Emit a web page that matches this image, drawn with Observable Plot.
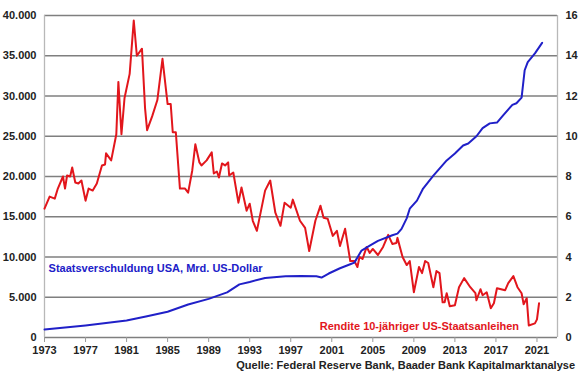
<!DOCTYPE html>
<html>
<head>
<meta charset="utf-8">
<script src="https://cdn.jsdelivr.net/npm/d3@7"></script>
<script src="https://cdn.jsdelivr.net/npm/@observablehq/plot@0.6"></script>
<style>
  html, body { margin: 0; padding: 0; background: #fff; }
  #wrap { width: 580px; height: 375px; position: relative; font-family: "Liberation Sans", Arial, sans-serif; }
  #caption { font: bold 11px "Liberation Sans", Arial, sans-serif; color: #222; text-align: right; padding-right: 5px; line-height: 13px; margin-top: 1px; }
</style>
</head>
<body>
<div id="wrap">
  <div id="chart"></div>
  <div id="caption">Quelle: Federal Reserve Bank, Baader Bank Kapitalmarktanalyse</div>
</div>
<script>
// Rendite 10-jähriger US-Staatsanleihen (%)
const yieldYears = [1973.0,1973.5,1974.0,1974.3,1974.8,1975.0,1975.2,1975.5,1975.7,1976.0,1976.3,1976.6,1977.0,1977.3,1977.7,1978.1,1978.6,1978.9,1979.0,1979.5,1980.0,1980.2,1980.5,1980.8,1981.3,1981.7,1982.0,1982.5,1982.8,1983.0,1983.5,1984.0,1984.5,1985.0,1985.3,1985.5,1985.8,1986.2,1986.7,1987.0,1987.4,1987.7,1988.1,1988.3,1988.8,1989.3,1989.5,1989.8,1990.0,1990.3,1990.6,1990.9,1991.0,1991.4,1991.9,1992.2,1992.7,1993.0,1993.3,1993.7,1994.5,1995.0,1995.5,1996.0,1996.4,1997.0,1997.2,1997.9,1998.4,1998.8,1999.4,1999.9,2000.2,2000.6,2001.1,2001.5,2001.8,2002.3,2002.8,2003.2,2003.5,2003.7,2004.0,2004.4,2004.7,2005.0,2005.5,2006.0,2006.5,2006.9,2007.3,2007.4,2007.9,2008.3,2008.6,2009.0,2009.5,2009.8,2010.1,2010.4,2010.9,2011.2,2011.5,2011.8,2012.0,2012.2,2012.5,2013.0,2013.4,2013.9,2014.5,2015.0,2015.1,2015.5,2015.7,2016.1,2016.5,2016.8,2017.1,2017.9,2018.2,2018.7,2019.1,2019.5,2019.7,2020.0,2020.2,2020.8,2021.0,2021.2];
const yieldValues = [6.4,7.0,6.9,7.4,8.0,7.4,8.05,8.0,8.45,7.7,7.65,7.8,6.8,7.4,7.3,7.65,8.55,8.6,9.15,8.8,10.1,12.7,10.1,11.9,13.1,15.75,14.0,14.35,11.4,10.3,11.0,11.8,13.85,11.6,11.6,10.2,10.2,7.4,7.4,7.2,8.3,9.6,8.7,8.55,8.8,9.2,8.15,8.25,7.95,8.65,8.55,8.7,8.05,8.2,6.7,7.45,6.3,6.65,5.8,5.3,7.3,7.8,6.2,5.55,6.7,6.45,6.85,5.8,5.45,4.3,5.8,6.55,5.95,5.9,5.05,5.3,4.55,5.4,3.8,3.8,3.5,4.0,3.9,4.5,4.2,4.4,4.1,4.5,5.1,4.65,4.7,4.95,4.0,3.6,3.8,2.25,3.5,3.2,3.8,3.7,2.5,3.3,3.2,1.75,1.75,2.2,1.55,1.6,2.5,2.95,2.5,2.2,1.85,2.4,2.1,2.25,1.45,1.7,2.45,2.35,2.7,3.05,2.5,2.2,1.65,1.95,0.6,0.7,0.9,1.7];

// Staatsverschuldung USA, Mrd. US-Dollar
const debtYears = [1973.0,1975.0,1977.0,1979.0,1981.0,1983.0,1985.0,1987.0,1989.0,1990.8,1992.0,1993.0,1994.5,1996.5,1998.0,1999.5,2000.0,2000.7,2001.8,2002.8,2003.2,2003.9,2004.7,2005.5,2006.9,2007.4,2007.8,2008.3,2008.6,2009.3,2009.9,2010.9,2012.2,2013.0,2013.8,2014.3,2015.1,2015.7,2016.4,2017.1,2017.7,2018.6,2019.0,2019.5,2019.8,2020.1,2020.8,2021.5];
const debtValues = [1000,1250,1500,1800,2100,2650,3200,4100,4800,5600,6600,6900,7400,7600,7650,7600,7450,7950,8600,9100,9300,10800,11400,12000,12700,12900,13500,14800,16000,17000,18500,20100,22000,22850,23850,24100,25000,26000,26600,26700,27600,28900,29100,29800,33200,34200,35300,36600];

// Achsen
const xDomain = [1973, 2023];
const xTicks = [1973,1977,1981,1985,1989,1993,1997,2001,2005,2009,2013,2017,2021];
const leftTicks = [0,5000,10000,15000,20000,25000,30000,35000,40000];
const rightTicks = [0,2,4,6,8,10,12,14,16];
const ratio = 2500; // 40.000 / 16

const labelDebt = "Staatsverschuldung USA, Mrd. US-Dollar";
const labelYield = "Rendite 10-jähriger US-Staatsanleihen";

const yieldData = yieldYears.map((y, i) => ({year: y, value: yieldValues[i]}));
const debtData = debtYears.map((y, i) => ({year: y, value: debtValues[i]}));

const de = d3.formatLocale({decimal: ",", thousands: ".", grouping: [3], currency: ["", "€"]});
const fmtDe = de.format(",");

const red = "#e2161c";
const blue = "#2020c8";

const chart = Plot.plot({
  width: 580,
  height: 358,
  marginLeft: 44,
  marginRight: 23,
  marginTop: 15,
  marginBottom: 21,
  style: {fontFamily: "'Liberation Sans', Arial, sans-serif", fontSize: "11px", fontWeight: "bold", color: "#222", background: "#fff"},
  x: {domain: xDomain},
  y: {domain: [0, 40000]},
  marks: [
    Plot.gridY(leftTicks, {stroke: "#7f7f7f", strokeOpacity: 1, strokeWidth: 1.3}),
    Plot.ruleX(xDomain, {stroke: "#b8b8b8", strokeWidth: 1.3}),
    Plot.axisX(xTicks, {tickFormat: d => String(d), tickSize: 5, tickPadding: 4, stroke: "#999", label: null, fill: "#222"}),
    Plot.axisY(leftTicks, {anchor: "left", tickFormat: d => fmtDe(d), tickSize: 0, tickPadding: 8, label: null, fill: "#222"}),
    Plot.axisY(rightTicks.map(d => d * ratio), {anchor: "right", tickFormat: d => String(d / ratio), tickSize: 0, tickPadding: 8, label: null, fill: "#222"}),
    Plot.line(yieldData, {x: "year", y: d => d.value * ratio, stroke: red, strokeWidth: 2}),
    Plot.line(debtData, {x: "year", y: "value", stroke: blue, strokeWidth: 2}),
    Plot.text([labelDebt], {x: 1973.4, y: 8570, text: d => d, textAnchor: "start", fill: blue, fontSize: 11, fontWeight: "bold"}),
    Plot.text([labelYield], {x: 2019.25, y: 1370, text: d => d, textAnchor: "end", fill: red, fontSize: 11, fontWeight: "bold"})
  ]
});
document.getElementById("chart").appendChild(chart);
</script>
</body>
</html>
